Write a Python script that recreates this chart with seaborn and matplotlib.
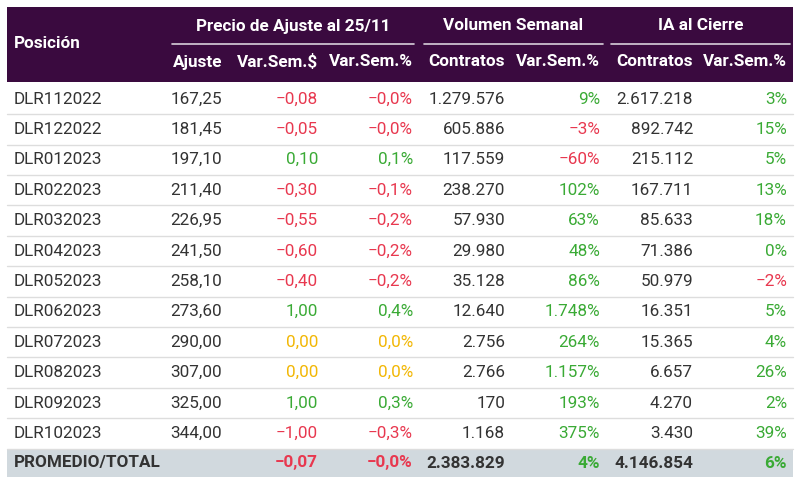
import matplotlib.pyplot as plt
import seaborn as sns

sns.set_style("white")
plt.rcParams['font.family'] = ['Roboto', 'DejaVu Sans']

posiciones = ["DLR112022", "DLR122022", "DLR012023", "DLR022023", "DLR032023", "DLR042023",
              "DLR052023", "DLR062023", "DLR072023", "DLR082023", "DLR092023", "DLR102023"]
ajuste = ["167,25", "181,45", "197,10", "211,40", "226,95", "241,50",
          "258,10", "273,60", "290,00", "307,00", "325,00", "344,00"]
var_pesos = [-0.08, -0.05, 0.10, -0.30, -0.55, -0.60, -0.40, 1.00, 0.00, 0.00, 1.00, -1.00]
var_pct = [-0.0, -0.0, 0.1, -0.1, -0.2, -0.2, -0.2, 0.4, 0.0, 0.0, 0.3, -0.3]
vol_contratos = ["1.279.576", "605.886", "117.559", "238.270", "57.930", "29.980",
                 "35.128", "12.640", "2.756", "2.766", "170", "1.168"]
vol_var = ["9%", "-3%", "-60%", "102%", "63%", "48%", "86%", "1.748%", "264%", "1.157%", "193%", "375%"]
ia_contratos = ["2.617.218", "892.742", "215.112", "167.711", "85.633", "71.386",
                "50.979", "16.351", "15.365", "6.657", "4.270", "3.430"]
ia_var = ["3%", "15%", "5%", "13%", "18%", "0%", "-2%", "5%", "4%", "26%", "2%", "39%"]
# sign of var_pct (some -0,0 values are negative)
pct_sign = [-1, -1, 1, -1, -1, -1, -1, 1, 0, 0, 1, -1]
total = ["PROMEDIO/TOTAL", "", "-0,07", "-0,0%", "2.383.829", "4%", "4.146.854", "6%"]
total_sign = [None, None, -1, -1, None, 1, None, 1]

RED, GREEN, YEL, DARK = "#e8384f", "#3aaa35", "#f2b705", "#333333"
PURPLE = "#3a0a3f"

def col(s):
    return RED if s < 0 else (GREEN if s > 0 else YEL)

def fmt(v, d):
    return f"{abs(v):.{d}f}".replace(".", ",")

fig = plt.figure(figsize=(8, 4.87), dpi=100)
ax = fig.add_axes([0, 0, 1, 1])
ax.set_xlim(0, 800)
ax.set_ylim(487, 0)
ax.axis("off")

L, R = 7, 793
ax.add_patch(plt.Rectangle((L, 7), R - L, 75, color=PURPLE, lw=0))
fs = 12.3
ax.text(14, 44, "Posición", color="white", fontsize=fs, fontweight="bold", va="center")
for x0, x1, t in [(172, 414, "Precio de Ajuste al 25/11"), (424, 603, "Volumen Semanal"),
                  (611, 790, "IA al Cierre")]:
    ax.text((x0 + x1) / 2, 26, t, color="white", fontsize=fs, fontweight="bold", ha="center", va="center")
    ax.plot([x0, x1], [44, 44], color="#d8d0da", lw=1.2)
rights = [222, 318, 413, 505, 600, 693, 787]
subs = ["Ajuste", "Var.Sem.$", "Var.Sem.%", "Contratos", "Var.Sem.%", "Contratos", "Var.Sem.%"]
for x, t in zip(rights, subs):
    ax.text(x, 62, t, color="white", fontsize=fs, fontweight="bold", ha="right", va="center")

y0, dy = 99, 30.4
for i, p in enumerate(posiciones):
    y = y0 + i * dy
    ax.plot([L, R], [y + dy / 2, y + dy / 2], color="#dddddd", lw=1)
    ax.text(14, y, p, color=DARK, fontsize=fs, va="center")
    vals = [(ajuste[i], DARK),
            (("\u2212" if var_pesos[i] < 0 else "") + fmt(var_pesos[i], 2), col(var_pesos[i])),
            (("\u2212" if pct_sign[i] < 0 else "") + fmt(var_pct[i], 1) + "%", col(pct_sign[i])),
            (vol_contratos[i], DARK),
            (vol_var[i].replace("-", "\u2212"), RED if vol_var[i].startswith("-") else GREEN),
            (ia_contratos[i], DARK),
            (ia_var[i].replace("-", "\u2212"), RED if ia_var[i].startswith("-") else GREEN)]
    for x, (t, c) in zip(rights, vals):
        ax.text(x, y, t, color=c, fontsize=fs, ha="right", va="center")

yt = 463
ax.add_patch(plt.Rectangle((L, 449), R - L, 28, color="#d1d9de", lw=0))
ax.text(14, yt, total[0], color=DARK, fontsize=fs, fontweight="bold", va="center")
for x, t, s in zip(rights, total[1:], total_sign[1:]):
    c = DARK if s is None else col(s)
    ax.text(x, yt, t.replace("-", "\u2212"), color=c, fontsize=fs, fontweight="bold", ha="right", va="center")

fig.savefig("out.png", dpi=100)
